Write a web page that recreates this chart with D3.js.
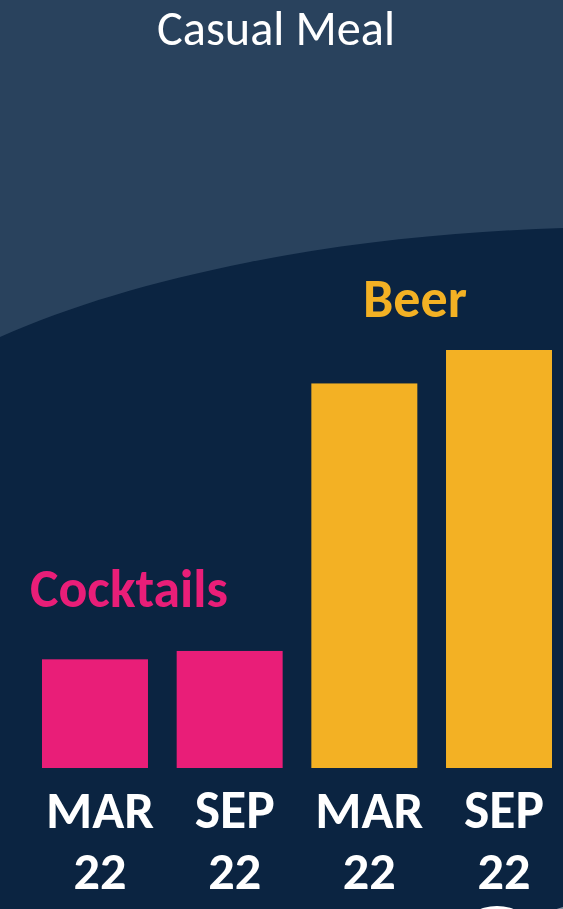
<!DOCTYPE html>
<html>
<head>
<meta charset="utf-8">
<script src="https://cdn.jsdelivr.net/npm/d3@7"></script>
<style>
  html, body { margin: 0; padding: 0; background: #0b2441; }
  svg { display: block; }
</style>
</head>
<body>
<script>
// Share of casual-meal occasions by drink and survey wave
const periods = ["MAR 22", "SEP 22", "MAR 22 ", "SEP 22 "];
const drinks = ["Cocktails", "Cocktails", "Beer", "Beer"];
const values = [13, 14, 46, 50];
const seriesNames = ["Cocktails", "Beer"];
const seriesColors = ["#e91e78", "#f3b124"];

const W = 563, H = 909;
const svg = d3.select("body").append("svg").attr("width", W).attr("height", H);

// background: lighter top band over dark navy, split by a gentle curve
svg.append("rect").attr("width", W).attr("height", H).attr("fill", "#0b2441");
svg.append("path")
  .attr("d", "M0,0 L563,0 L563,228 C470,231 360,240 250,262 C150,282 70,306 0,337 Z")
  .attr("fill", "#29425d");

const x = d3.scaleBand().domain(periods).range([42, 552]).paddingInner(0.213).paddingOuter(0);
const y = d3.scaleLinear().domain([0, 50]).range([768, 350]);
const color = d3.scaleOrdinal().domain(seriesNames).range(seriesColors);

const rows = periods.map((p, i) => ({ period: p, drink: drinks[i], value: values[i] }));

svg.append("g").selectAll("rect").data(rows).join("rect")
  .attr("x", d => x(d.period))
  .attr("y", d => y(d.value))
  .attr("width", x.bandwidth())
  .attr("height", d => y(0) - y(d.value))
  .attr("fill", d => color(d.drink));

const font = "Calibri, Carlito, Lato, 'Open Sans', sans-serif";

// fit a text element to a target width by adjusting its font size
function fit(sel, width) {
  const len = sel.node().getComputedTextLength();
  const fs = parseFloat(sel.attr("font-size"));
  sel.attr("font-size", fs * width / len);
  return sel;
}

// title
fit(svg.append("text")
  .attr("x", 276).attr("y", 45)
  .attr("text-anchor", "middle")
  .attr("fill", "#ffffff")
  .attr("font-family", font)
  .attr("font-size", 50)
  .text("Casual Meal"), 238);

// series labels
fit(svg.append("text")
  .attr("x", 30).attr("y", 607)
  .attr("fill", color("Cocktails"))
  .attr("font-family", font).attr("font-weight", "bold")
  .attr("font-size", 44)
  .text("Cocktails"), 198);

fit(svg.append("text")
  .attr("x", 363).attr("y", 317)
  .attr("fill", color("Beer"))
  .attr("font-family", font).attr("font-weight", "bold")
  .attr("font-size", 44)
  .text("Beer"), 104);

// category axis labels, two lines each
const axis = d3.axisBottom(x).tickSize(0).tickFormat(() => "");
const gx = svg.append("g").attr("transform", "translate(0,768)").call(axis);
gx.select(".domain").remove();

gx.selectAll(".tick").each(function(d) {
  const parts = d.trim().split(" ");
  const g = d3.select(this);
  const t1 = g.append("text")
    .attr("x", 5).attr("y", 60)
    .attr("text-anchor", "middle")
    .attr("fill", "#ffffff")
    .attr("font-family", font).attr("font-weight", "bold")
    .attr("font-size", 42)
    .text(parts[0]);
  fit(t1, parts[0] === "MAR" ? 108 : 80);
  const t2 = g.append("text")
    .attr("x", 5).attr("y", 121)
    .attr("text-anchor", "middle")
    .attr("fill", "#ffffff")
    .attr("font-family", font).attr("font-weight", "bold")
    .attr("font-size", 42)
    .text(parts[1]);
  fit(t2, 53);
});

// decorative shapes peeking in at the lower right edge
svg.append("ellipse").attr("cx", 497).attr("cy", 930).attr("rx", 34).attr("ry", 24).attr("fill", "#ffffff");
svg.append("ellipse").attr("cx", 585).attr("cy", 930).attr("rx", 48).attr("ry", 26).attr("fill", "#8a96a6");
</script>
</body>
</html>
